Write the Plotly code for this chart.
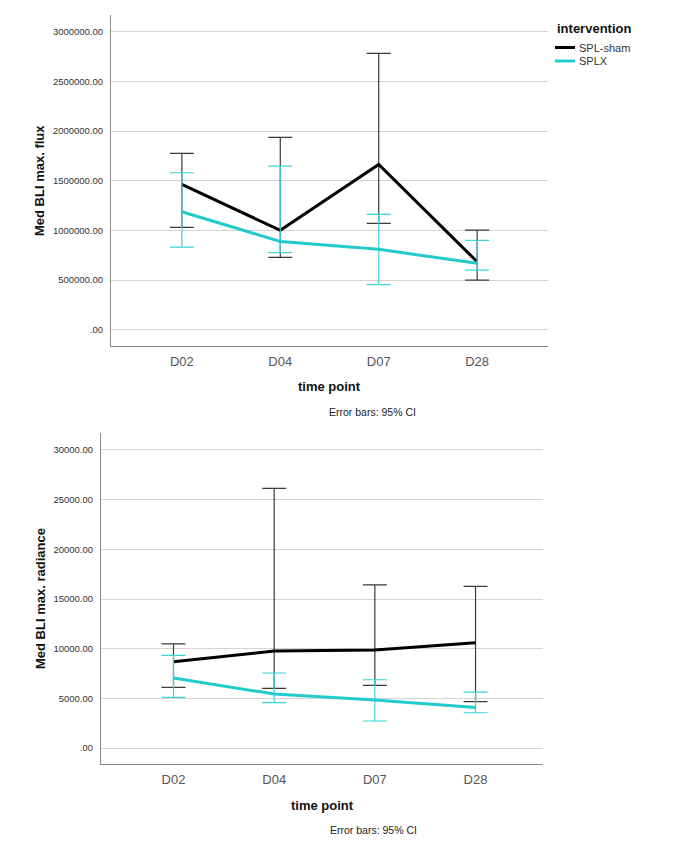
import plotly.graph_objects as go

W, H = 686, 847

time_points = ["D02", "D04", "D07", "D28"]

# Top panel: Med BLI max. flux
flux_sham = [1463000, 1000000, 1664000, 684000]
flux_sham_hi = [1775000, 1936000, 2781000, 1003000]
flux_sham_lo = [1030000, 728000, 1070000, 500000]
flux_splx = [1187000, 889000, 809000, 668000]
flux_splx_hi = [1580000, 1647000, 1161000, 899000]
flux_splx_lo = [832000, 775000, 453000, 600000]
flux_ticks = [0, 500000, 1000000, 1500000, 2000000, 2500000, 3000000]
flux_tick_text = [".00", "500000.00", "1000000.00", "1500000.00", "2000000.00", "2500000.00", "3000000.00"]

# Bottom panel: Med BLI max. radiance
rad_sham = [8680, 9760, 9860, 10590]
rad_sham_hi = [10490, 26130, 16430, 16270]
rad_sham_lo = [6100, 6000, 6310, 4660]
rad_splx = [7040, 5430, 4830, 4090]
rad_splx_hi = [9330, 7550, 6870, 5630]
rad_splx_lo = [5100, 4560, 2720, 3550]
rad_ticks = [0, 5000, 10000, 15000, 20000, 25000, 30000]
rad_tick_text = [".00", "5000.00", "10000.00", "15000.00", "20000.00", "25000.00", "30000.00"]

groups = ["SPL-sham", "SPLX"]
line_colors = ["#000000", "#22CCCC"]
err_colors = ["#3a3a3a", "#3DD6D6"]

FONT = "Arial, Liberation Sans, sans-serif"

def px_x(p):
    return p / W

def px_y(p):
    return 1 - p / H

fig = go.Figure()

def add_series(xa, ya, vals, hi, lo, color, ecolor, name):
    fig.add_trace(go.Scatter(
        x=time_points, y=vals, mode="lines", name=name,
        xaxis=xa, yaxis=ya, showlegend=False,
        line=dict(color=color, width=3),
        error_y=dict(type="data", symmetric=False,
                     array=[h - v for h, v in zip(hi, vals)],
                     arrayminus=[v - l for v, l in zip(vals, lo)],
                     color=ecolor, thickness=1.2, width=12),
    ))

add_series("x", "y", flux_sham, flux_sham_hi, flux_sham_lo, line_colors[0], err_colors[0], groups[0])
add_series("x", "y", flux_splx, flux_splx_hi, flux_splx_lo, line_colors[1], err_colors[1], groups[1])
add_series("x2", "y2", rad_sham, rad_sham_hi, rad_sham_lo, line_colors[0], err_colors[0], groups[0])
add_series("x2", "y2", rad_splx, rad_splx_hi, rad_splx_lo, line_colors[1], err_colors[1], groups[1])

axis_common = dict(showline=True, linecolor="#8a8a8a", linewidth=1, zeroline=False)
xcommon = dict(axis_common, showgrid=False, tickfont=dict(family=FONT, size=13, color="#555555"),
               ticks="", ticklabelstandoff=3, type="category")
ycommon = dict(axis_common, showgrid=True, gridcolor="#d4d4d4", gridwidth=1.3,
               tickfont=dict(family=FONT, size=9.5, color="#333333"), ticks="", ticklabelstandoff=5)

fig.update_layout(
    width=W, height=H,
    margin=dict(l=0, r=0, t=0, b=0),
    paper_bgcolor="white", plot_bgcolor="white",
    xaxis=dict(xcommon, domain=[px_x(111), px_x(548)], range=[-0.72, 3.72], anchor="y"),
    yaxis=dict(ycommon, domain=[px_y(346), px_y(15)], range=[-164000, 3168000],
               tickvals=flux_ticks, ticktext=flux_tick_text, anchor="x"),
    xaxis2=dict(xcommon, domain=[px_x(101), px_x(543)], range=[-0.72, 3.67], anchor="y2"),
    yaxis2=dict(ycommon, domain=[px_y(764), px_y(433)], range=[-1610, 31710],
                tickvals=rad_ticks, ticktext=rad_tick_text, anchor="x2"),
    showlegend=False,
)

annotations = []
def ann(text, x, y, size, bold=False, angle=0, color="#111111", xanchor="center"):
    annotations.append(dict(
        text=f"<b>{text}</b>" if bold else text, x=px_x(x), y=px_y(y),
        xref="paper", yref="paper", showarrow=False, textangle=angle,
        xanchor=xanchor, yanchor="middle",
        font=dict(family=FONT, size=size, color=color)))

ann("Med BLI max. flux", 40, 181, 13, bold=True, angle=-90)
ann("time point", 329, 386, 13, bold=True)
ann("Error bars: 95% CI", 372, 412, 10.5, color="#222222")
ann("Med BLI max. radiance", 40, 599, 13, bold=True, angle=-90)
ann("time point", 322, 805, 13, bold=True)
ann("Error bars: 95% CI", 373, 830, 10.5, color="#222222")

# legend
ann("intervention", 555, 28, 13, bold=True, xanchor="left")
shapes = []
for i, (g, c) in enumerate(zip(groups, line_colors)):
    yy = 47.5 + i * 13.5
    shapes.append(dict(type="line", xref="paper", yref="paper",
                       x0=px_x(555), x1=px_x(575), y0=px_y(yy), y1=px_y(yy),
                       line=dict(color=c, width=3)))
    ann(g, 577, yy, 11, color="#333333", xanchor="left")

fig.update_layout(annotations=annotations, shapes=shapes)

fig.write_html("out.html", config={"displayModeBar": False},
               post_script="document.body.style.margin='0';")
